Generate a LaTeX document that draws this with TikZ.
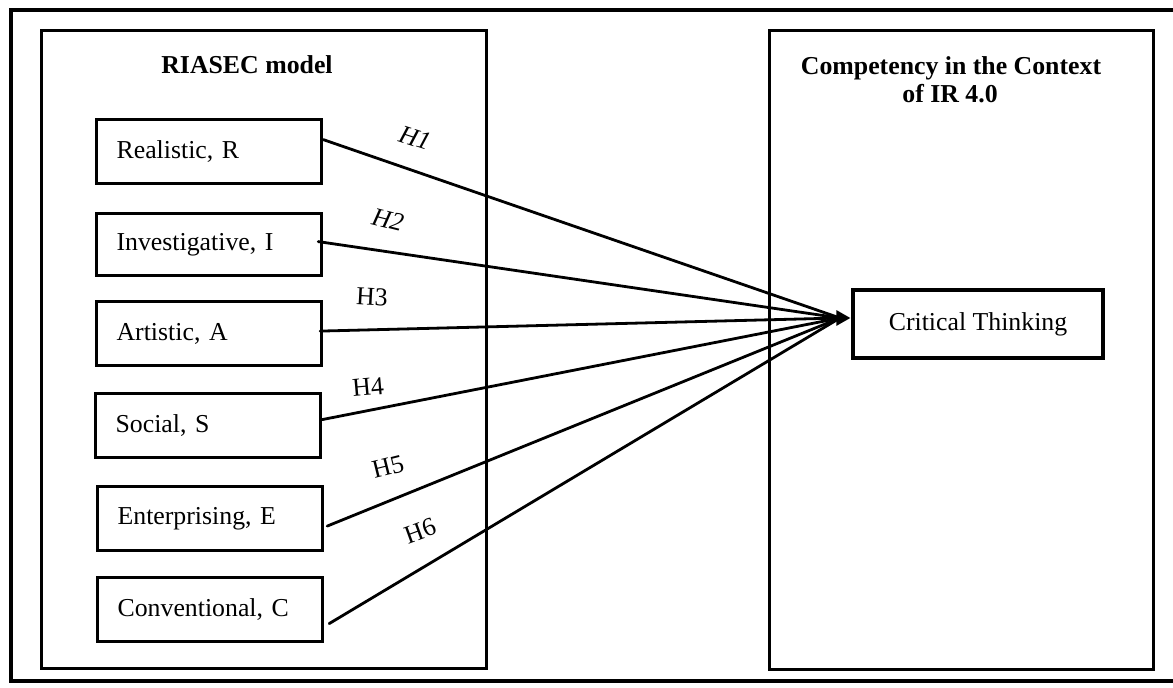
\documentclass[tikz,border=0pt]{standalone}
\usepackage{fontspec}
\setmainfont{Liberation Serif}
\usetikzlibrary{arrows.meta}
\begin{document}
\begin{tikzpicture}[x=0.5pt,y=-0.5pt,
  txt/.style={font=\fontsize{12.9}{15}\selectfont},
  head/.style={font=\fontsize{12.9}{15}\selectfont\bfseries, inner sep=0pt},
  item/.style={draw, line width=1.6pt, minimum width=112.5pt, minimum height=32pt,
    text width=92.5pt, inner xsep=10pt, align=left, anchor=north west,
    font=\fontsize{12.9}{15}\selectfont},
  panel/.style={draw, line width=1.7pt, anchor=north west, inner sep=0pt},
  link/.style={line width=1.4pt, line cap=round},
  lab/.style={font=\fontsize{12.9}{15}\selectfont, inner sep=0pt}]
\clip (0,0) rectangle (1173,688);
\fill[white] (0,0) rectangle (1173,688);
\draw[line width=2.2pt] (11,10) rectangle (1200,681);
% panels
\node[panel, minimum width=222.5pt, minimum height=319pt] (left) at (40,29) {};
\node[panel, minimum width=192pt, minimum height=319.5pt] (right) at (768,29) {};
% headings
\node[head, anchor=base] (riasec) at (247,74) {RIASEC model};
\node[head, anchor=base] (comp1) at (951,75) {Competency in the Context};
\node[head, anchor=base] (comp2) at (950,103) {of IR 4.0};
% items
\node[item] (R) at (95,118) {Realistic, R};
\node[item, minimum height=31pt] (I) at (95,212) {Investigative, I};
\node[item] (A) at (95,300) {Artistic, A};
\node[item] (S) at (94,392) {Social, S};
\node[item] (E) at (96,485) {Enterprising, E};
\node[item] (C) at (96,576) {Conventional, C};
% target
\node[draw, line width=1.6pt, minimum width=125pt, minimum height=34pt, txt] (CT) at (978,324) {Critical Thinking};
\coordinate (hub) at (840,318);
% connectors
\draw[link] ([yshift=6pt]R.east) -- (hub);
\draw[link] ([xshift=-2.5pt,yshift=1.5pt]I.east) -- (hub);
\draw[link] ([xshift=-1.5pt,yshift=1.25pt]A.east) -- (hub);
\draw[link] ([yshift=3pt]S.east) -- (hub);
\draw[link] ([xshift=1.5pt,yshift=-3.75pt]E.east) -- (hub);
\draw[link] ([xshift=2.5pt,yshift=-7pt]C.east) -- (hub);
\draw[line width=1.4pt, -{Triangle[length=7pt,width=7.5pt]}, shorten >=0.5pt] (hub) -- ([yshift=3pt]CT.west);
% labels
\node[lab, rotate=-18] (h1) at (415,138) {\itshape H1};
\node[lab, rotate=-14] (h2) at (388,220) {\itshape H2};
\node[lab, rotate=-3] (h3) at (372,297) {H3};
\node[lab, rotate=5] (h4) at (368,387) {H4};
\node[lab, rotate=14] (h5) at (388,467) {H5};
\node[lab, rotate=20] (h6) at (420,531) {H6};
\end{tikzpicture}
\end{document}
